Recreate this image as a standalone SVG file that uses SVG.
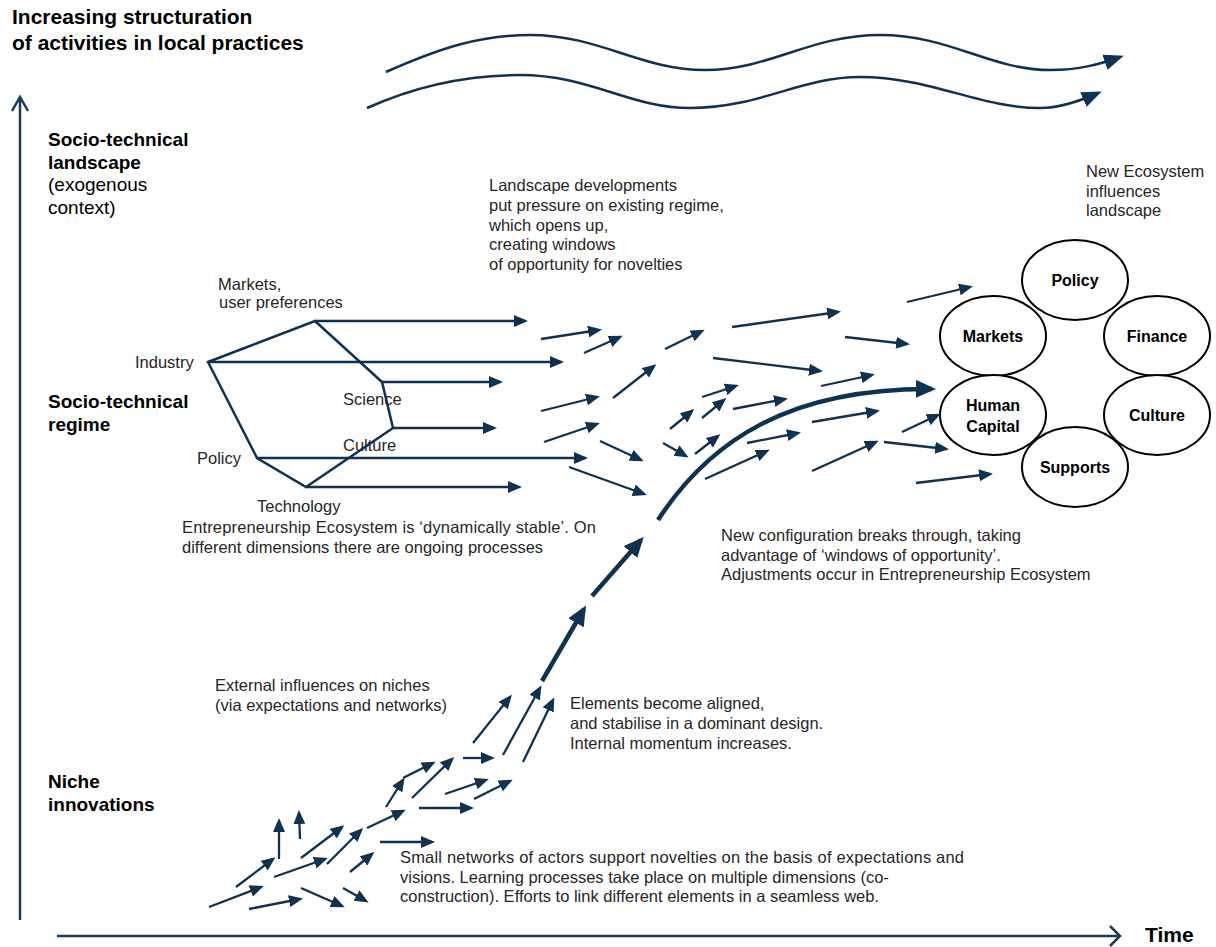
<svg xmlns="http://www.w3.org/2000/svg" width="1216" height="947" viewBox="0 0 1216 947">
<style>
.t{font-family:"Liberation Sans",Arial,sans-serif;font-size:16.5px;fill:#262626}
.b{font-family:"Liberation Sans",Arial,sans-serif;font-weight:bold;fill:#000}
.h{font-size:19px}
.r{font-family:"Liberation Sans",Arial,sans-serif;font-size:19px;fill:#000}
.a{fill:none;stroke:#0e3250;stroke-width:2.3;marker-end:url(#ah)}
.k{fill:none;stroke:#0e3250;stroke-width:4.5;marker-end:url(#ahb)}
.w{fill:none;stroke:#0e3250;stroke-width:2.5;marker-end:url(#ahw)}
.ln{fill:none;stroke:#0e3250;stroke-width:2.5}
.ax{fill:none;stroke:#1a3b5c;stroke-width:2.5}
.c{fill:#fff;stroke:#000;stroke-width:2}
.cl{font-family:"Liberation Sans",Arial,sans-serif;font-weight:bold;font-size:16px;fill:#000;text-anchor:middle}
</style>
<defs>
<marker id="ah" markerUnits="userSpaceOnUse" markerWidth="14" markerHeight="12" refX="11" refY="6" orient="auto"><path d="M0,0 L14,6 L0,12 z" fill="#0e3250"/></marker>
<marker id="ahb" markerUnits="userSpaceOnUse" markerWidth="20" markerHeight="18" refX="16" refY="9" orient="auto"><path d="M0,0 L20,9 L0,18 z" fill="#0e3250"/></marker>
<marker id="ahw" markerUnits="userSpaceOnUse" markerWidth="20" markerHeight="16" refX="16" refY="8" orient="auto"><path d="M0,0 L20,8 L0,16 z" fill="#0e3250"/></marker>
</defs>
<rect width="1216" height="947" fill="#fff"/>

<g id="axes">
<path class="ax" d="M20,920 V97 M12,111 L20,97 L28,111"/>
<path class="ax" d="M57,936 H1120 M1110,926 L1120,936 L1110,946"/>
</g>

<g id="title"><text class="b" font-size="21"><tspan x="12" y="24">Increasing structuration</tspan><tspan x="12" y="50">of activities in local practices</tspan></text></g>
<g id="time"><text class="b" font-size="21" x="1145" y="942">Time</text></g>
<g id="landscape-label"><text class="b h" x="48" y="146">Socio-technical</text><text class="b h" x="48" y="169">landscape</text><text class="r" x="48" y="191">(exogenous</text><text class="r" x="48" y="214">context)</text></g>
<g id="regime-label"><text class="b h" x="48" y="408">Socio-technical</text><text class="b h" x="48" y="431">regime</text></g>
<g id="niche-label"><text class="b h" x="48" y="788">Niche</text><text class="b h" x="48" y="811">innovations</text></g>

<g id="landscape-text"><text class="t"><tspan x="489" y="191">Landscape developments</tspan><tspan x="489" y="211">put pressure on existing regime,</tspan><tspan x="489" y="231">which opens up,</tspan><tspan x="489" y="250">creating windows</tspan><tspan x="489" y="270">of opportunity for novelties</tspan></text></g>
<g id="neweco-text"><text class="t"><tspan x="1086" y="177">New Ecosystem</tspan><tspan x="1086" y="197">influences</tspan><tspan x="1086" y="216">landscape</tspan></text></g>
<g id="dim-labels"><text class="t"><tspan x="218" y="290">Markets,</tspan><tspan x="219" y="308">user preferences</tspan></text>
<text class="t" x="135" y="368">Industry</text><text class="t" x="343" y="405">Science</text><text class="t" x="343" y="451">Culture</text><text class="t" x="197" y="464">Policy</text><text class="t" x="257" y="512">Technology</text></g>
<g id="stable-text"><text class="t"><tspan x="182" y="533" textLength="414" lengthAdjust="spacing">Entrepreneurship Ecosystem is ‘dynamically stable’. On</tspan><tspan x="182" y="553">different dimensions there are ongoing processes</tspan></text></g>
<g id="breakthrough-text"><text class="t"><tspan x="721" y="541">New configuration breaks through, taking</tspan><tspan x="721" y="561">advantage of ‘windows of opportunity’.</tspan><tspan x="721" y="580">Adjustments occur in Entrepreneurship Ecosystem</tspan></text></g>
<g id="external-text"><text class="t"><tspan x="215" y="691">External influences on niches</tspan><tspan x="215" y="711">(via expectations and networks)</tspan></text></g>
<g id="aligned-text"><text class="t"><tspan x="570" y="709">Elements become aligned,</tspan><tspan x="570" y="729">and stabilise in a dominant design.</tspan><tspan x="570" y="749">Internal momentum increases.</tspan></text></g>
<g id="small-text"><text class="t"><tspan x="400" y="863" textLength="564" lengthAdjust="spacing">Small networks of actors support novelties on the basis of expectations and</tspan><tspan x="400" y="883">visions. Learning processes take place on multiple dimensions (co-</tspan><tspan x="400" y="902">construction). Efforts to link different elements in a seamless web.</tspan></text></g>

<g id="ecosystem">
<g id="n-policy"><ellipse class="c" cx="1075" cy="280" rx="53" ry="40"/><text class="cl" x="1075" y="286">Policy</text></g>
<g id="n-markets"><ellipse class="c" cx="993" cy="336" rx="53" ry="40"/><text class="cl" x="993" y="342">Markets</text></g>
<g id="n-finance"><ellipse class="c" cx="1157" cy="336" rx="53" ry="40"/><text class="cl" x="1157" y="342">Finance</text></g>
<g id="n-human"><ellipse class="c" cx="993" cy="415" rx="53" ry="40"/><text class="cl" x="993" y="411">Human</text><text class="cl" x="993" y="432">Capital</text></g>
<g id="n-culture"><ellipse class="c" cx="1157" cy="415" rx="53" ry="40"/><text class="cl" x="1157" y="421">Culture</text></g>
<g id="n-supports"><ellipse class="c" cx="1075" cy="467" rx="53" ry="40"/><text class="cl" x="1075" y="473">Supports</text></g>
</g>

<g id="connectors">
<path class="w" d="M386,72 C440,48 480,35 530,35 C600,35 640,70 705,70 C770,70 810,35 880,35 C950,35 990,70 1050,70 C1080,70 1100,64 1120,57"/>
<path class="w" d="M367,108 C420,84 470,75 520,75 C590,75 630,108 690,108 C760,108 800,77 860,77 C930,77 980,108 1040,108 C1060,108 1080,101 1098,93"/>

<path class="ln" d="M208,362 L315,321 L382,382 L393,428 L306,487 L257,458 Z"/>
<path class="a" d="M315,321 H525"/>
<path class="a" d="M208,362 H561"/>
<path class="a" d="M382,382 H500"/>
<path class="a" d="M393,428 H494"/>
<path class="a" d="M257,458 H585"/>
<path class="a" d="M306,487 H519"/>

<path class="a" d="M541,339 L599,330"/>
<path class="a" d="M584,353 L620,337"/>
<path class="a" d="M665,349 L702,331"/>
<path class="a" d="M732,327 L838,312"/>
<path class="a" d="M845,337 L907,344"/>
<path class="a" d="M907,302 L970,287"/>
<path class="a" d="M713,358 L820,371"/>
<path class="a" d="M613,398 L654,366"/>
<path class="a" d="M541,411 L597,397"/>
<path class="a" d="M544,442 L597,424"/>
<path class="a" d="M600,441 L641,460"/>
<path class="a" d="M569,467 L644,494"/>
<path class="a" d="M702,397 L736,386"/>
<path class="a" d="M702,418 L724,400"/>
<path class="a" d="M670,429 L692,411"/>
<path class="a" d="M663,443 L686,456"/>
<path class="a" d="M695,454 L718,436"/>
<path class="a" d="M733,409 L785,399"/>
<path class="a" d="M747,443 L798,433"/>
<path class="a" d="M705,479 L767,451"/>
<path class="a" d="M821,386 L872,375"/>
<path class="a" d="M812,422 L877,411"/>
<path class="a" d="M812,471 L876,442"/>
<path class="a" d="M884,442 L946,449"/>
<path class="a" d="M902,432 L938,415"/>
<path class="a" d="M916,483 L990,474"/>

<path class="k" d="M658,520 C710,440 790,388 932,389"/>
<path class="k" d="M592,596 L641,540"/>
<path class="k" d="M542,681 L584,609"/>

<path class="a" d="M473,743 L510,697"/>
<path class="a" d="M503,755 L540,688"/>
<path class="a" d="M523,762 L553,700"/>
<path class="a" d="M463,758 H492"/>
<path class="a" d="M412,798 L452,759"/>
<path class="a" d="M386,807 L403,780"/>
<path class="a" d="M403,778 L433,763"/>
<path class="a" d="M445,794 L486,780"/>
<path class="a" d="M474,799 L510,781"/>
<path class="a" d="M419,808 H471"/>
<path class="a" d="M367,828 L403,811"/>
<path class="a" d="M380,842 H432"/>
<path class="a" d="M350,872 L372,854"/>
<path class="a" d="M327,864 L361,830"/>
<path class="a" d="M301,858 L342,827"/>
<path class="a" d="M274,877 L325,859"/>
<path class="a" d="M279,859 V821"/>
<path class="a" d="M300,839 L299,813"/>
<path class="a" d="M236,887 L273,859"/>
<path class="a" d="M209,907 L261,887"/>
<path class="a" d="M249,909 L300,899"/>
<path class="a" d="M301,888 L342,906"/>
<path class="a" d="M343,888 L366,901"/>
</g>
</svg>
